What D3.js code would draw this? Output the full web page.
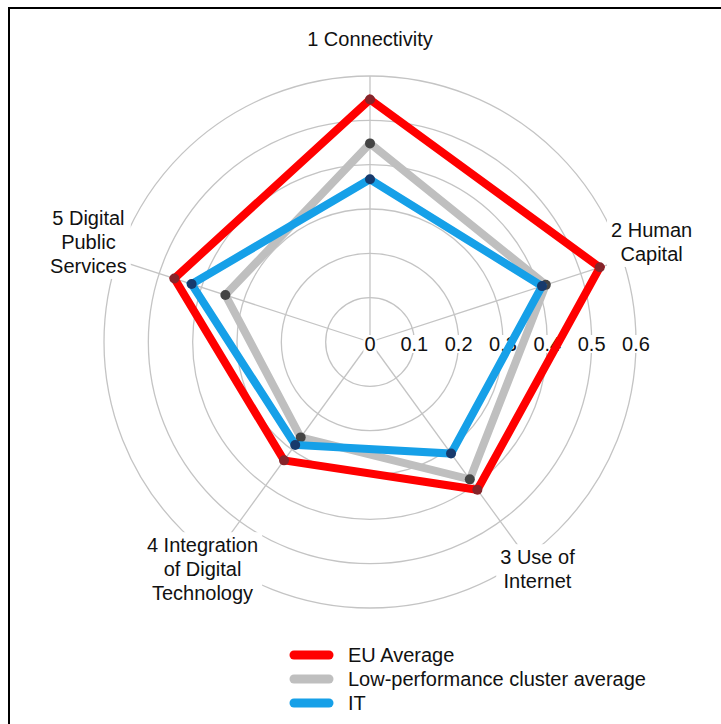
<!DOCTYPE html>
<html><head><meta charset="utf-8">
<script src="https://cdn.jsdelivr.net/npm/d3@7"></script>
<style>body{margin:0;background:#fff}svg{display:block}text{font-family:"Liberation Sans",Arial,sans-serif;fill:#111}</style>
</head><body><svg id="c" width="721" height="724"></svg>
<script>
const axes = [["1 Connectivity"],["2 Human","Capital"],["3 Use of","Internet"],["4 Integration","of Digital","Technology"],["5 Digital","Public","Services"]];
const ticks = [0,0.1,0.2,0.3,0.4,0.5,0.6];
const seriesNames = ["EU Average","Low-performance cluster average","IT"];
const euAvg = [0.547,0.545,0.412,0.330,0.464];
const lowCluster = [0.448,0.417,0.383,0.266,0.343];
const itValues = [0.367,0.408,0.311,0.287,0.423];
const colors = ["#ff0000","#bfbfbf","#16a0e8"];
const dotColors = ["#86242a","#444444","#173a6c"];

const svg = d3.select("#c");
const cx = 370, cy = 342;
const r = d3.scaleLinear().domain([0,0.6]).range([0,266]);
const ang = d3.scaleLinear().domain([0,axes.length]).range([0,2*Math.PI]);
const pt = (i,v)=>[cx+r(v)*Math.sin(ang(i)), cy-r(v)*Math.cos(ang(i))];

// frame
svg.append("rect").attr("x",9).attr("y",8).attr("width",740).attr("height",740).attr("fill","none").attr("stroke","#000").attr("stroke-width",2);

const g = svg.append("g");
g.selectAll("circle.grid").data(ticks.slice(1)).join("circle").attr("class","grid")
 .attr("cx",cx).attr("cy",cy).attr("r",d=>r(d)).attr("fill","none").attr("stroke","#c4c4c4").attr("stroke-width",1.3);
g.selectAll("line.spoke").data(axes).join("line")
 .attr("x1",cx).attr("y1",cy)
 .attr("x2",(d,i)=>pt(i,0.6)[0]).attr("y2",(d,i)=>pt(i,0.6)[1])
 .attr("stroke","#c4c4c4").attr("stroke-width",1.3);

const fs = 20;
ticks.forEach(t=>{
  const tg = g.append("g");
  const tx = tg.append("text").attr("x",cx+r(t)).attr("y",cy+9).attr("text-anchor","middle").attr("font-size",fs).text(t===0?"0":d3.format(".1f")(t));
  const bb = tx.node().getBBox();
  tg.insert("rect","text").attr("x",bb.x-1).attr("y",bb.y+2).attr("width",bb.width+2).attr("height",bb.height-4).attr("fill","#fff");
});

axes.forEach((lines,i)=>{
  const a = ang(i);
  const rr = 293 + 10*Math.cos(a);
  const x = cx + rr*Math.sin(a), y = cy - rr*Math.cos(a) - 9*Math.abs(Math.sin(a)) + (Math.cos(a) < 0 ? 2 : 0);
  const lh = 24;
  const lg = g.append("g");
  const tx = lg.append("text").attr("text-anchor","middle").attr("font-size",fs);
  lines.forEach((l,k)=>{
    tx.append("tspan").attr("x",x).attr("y",y + (k-(lines.length-1)/2)*lh + 7).text(l);
  });
  const bb = tx.node().getBBox();
  lg.insert("rect","text").attr("x",bb.x-4).attr("y",bb.y-2).attr("width",bb.width+8).attr("height",bb.height+4).attr("fill","#fff");
});

const data = [euAvg, lowCluster, itValues];
const line = d3.line().curve(d3.curveLinearClosed);
data.forEach((vals,s)=>{
  const pts = vals.map((v,i)=>pt(i,v));
  g.append("path").attr("d",line(pts)).attr("fill","none").attr("stroke",colors[s]).attr("stroke-width",8).attr("stroke-linejoin","miter");
  g.selectAll(null).data(pts).join("circle").attr("cx",d=>d[0]).attr("cy",d=>d[1]).attr("r",5).attr("fill",dotColors[s]);
});

const leg = svg.append("g");
seriesNames.forEach((n,k)=>{
  const y = 655 + k*24;
  leg.append("line").attr("x1",294).attr("x2",329).attr("y1",y).attr("y2",y).attr("stroke",colors[k]).attr("stroke-width",9).attr("stroke-linecap","round");
  leg.append("text").attr("x",348).attr("y",y+7).attr("font-size",fs).text(n);
});
</script></body></html>
